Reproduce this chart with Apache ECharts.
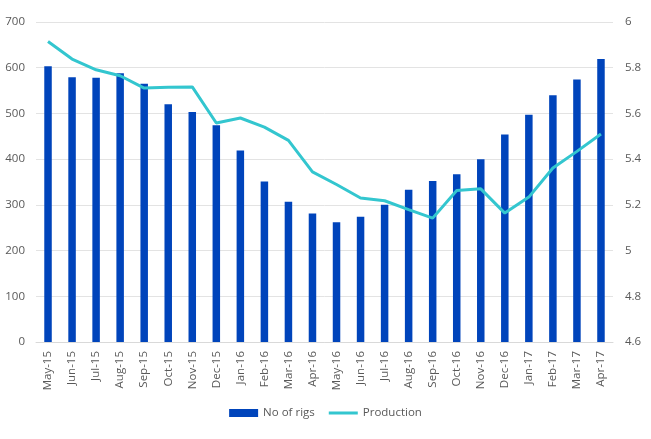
<!DOCTYPE html>
<html>
<head>
<meta charset="utf-8">
<script src="https://cdn.jsdelivr.net/npm/echarts@6/dist/echarts.min.js"></script>
<style>
  html, body { margin: 0; padding: 0; background: #fff; }
  #main { width: 651px; height: 439px; }
</style>
</head>
<body>
<div id="main"></div>
<script>
// Monthly categories
const months = [
  'May-15', 'Jun-15', 'Jul-15', 'Aug-15', 'Sep-15', 'Oct-15', 'Nov-15', 'Dec-15',
  'Jan-16', 'Feb-16', 'Mar-16', 'Apr-16', 'May-16', 'Jun-16', 'Jul-16', 'Aug-16',
  'Sep-16', 'Oct-16', 'Nov-16', 'Dec-16', 'Jan-17', 'Feb-17', 'Mar-17', 'Apr-17'
];

// Bars, left axis
const rigs = [
  603, 579, 578, 588, 565, 520, 503, 474,
  419, 351, 307, 281, 262, 274, 300, 333,
  352, 367, 400, 454, 497, 540, 574, 619
];

// Line, right axis
const production = [
  5.915, 5.838, 5.791, 5.765, 5.711, 5.714, 5.716, 5.558,
  5.58, 5.54, 5.482, 5.344, 5.289, 5.23, 5.218, 5.179,
  5.142, 5.263, 5.27, 5.164, 5.234, 5.361, 5.434, 5.51
];

const labelFont = {
  color: '#595959',
  fontFamily: 'Open Sans',
  fontSize: 11.5
};

// thin bar used as the legend mark of the line (tiny dots keep the box 8px tall)
const lineIcon = 'path://M0,0L0.01,0L0.01,0.01Z M0,8L0.01,8L0.01,7.99Z M0,2.5L30,2.5L30,5.5L0,5.5Z';

const option = {
  animation: false,
  grid: { left: 36, right: 38, top: 22, bottom: 97 },
  legend: {
    bottom: 15,
    left: 'center',
    itemGap: 14,
    itemWidth: 29,
    itemHeight: 8,
    textStyle: labelFont,
    data: [
      { name: 'No of rigs', icon: 'rect' },
      { name: 'Production', icon: lineIcon }
    ]
  },
  xAxis: {
    type: 'category',
    data: months,
    axisTick: { show: false },
    axisLine: { lineStyle: { color: '#d9d9d9' } },
    axisLabel: { ...labelFont, rotate: 90, interval: 0, margin: 9 }
  },
  yAxis: [
    {
      type: 'value',
      min: 0,
      max: 700,
      interval: 100,
      axisLabel: { ...labelFont, margin: 11 },
      splitLine: { lineStyle: { color: '#e3e3e3' } }
    },
    {
      type: 'value',
      min: 4.6,
      max: 6,
      interval: 0.2,
      axisLabel: {
        ...labelFont,
        margin: 12,
        formatter: (v) => String(Math.round(v * 10) / 10)
      },
      splitLine: { show: false }
    }
  ],
  series: [
    {
      name: 'No of rigs',
      type: 'bar',
      data: rigs,
      barWidth: 7.5,
      itemStyle: { color: '#0044BB' }
    },
    {
      name: 'Production',
      type: 'line',
      yAxisIndex: 1,
      data: production,
      symbol: 'none',
      lineStyle: { color: '#33C6CF', width: 3 },
      itemStyle: { color: '#33C6CF' }
    }
  ]
};

const chart = echarts.init(document.getElementById('main'));
chart.setOption(option);
</script>
</body>
</html>
